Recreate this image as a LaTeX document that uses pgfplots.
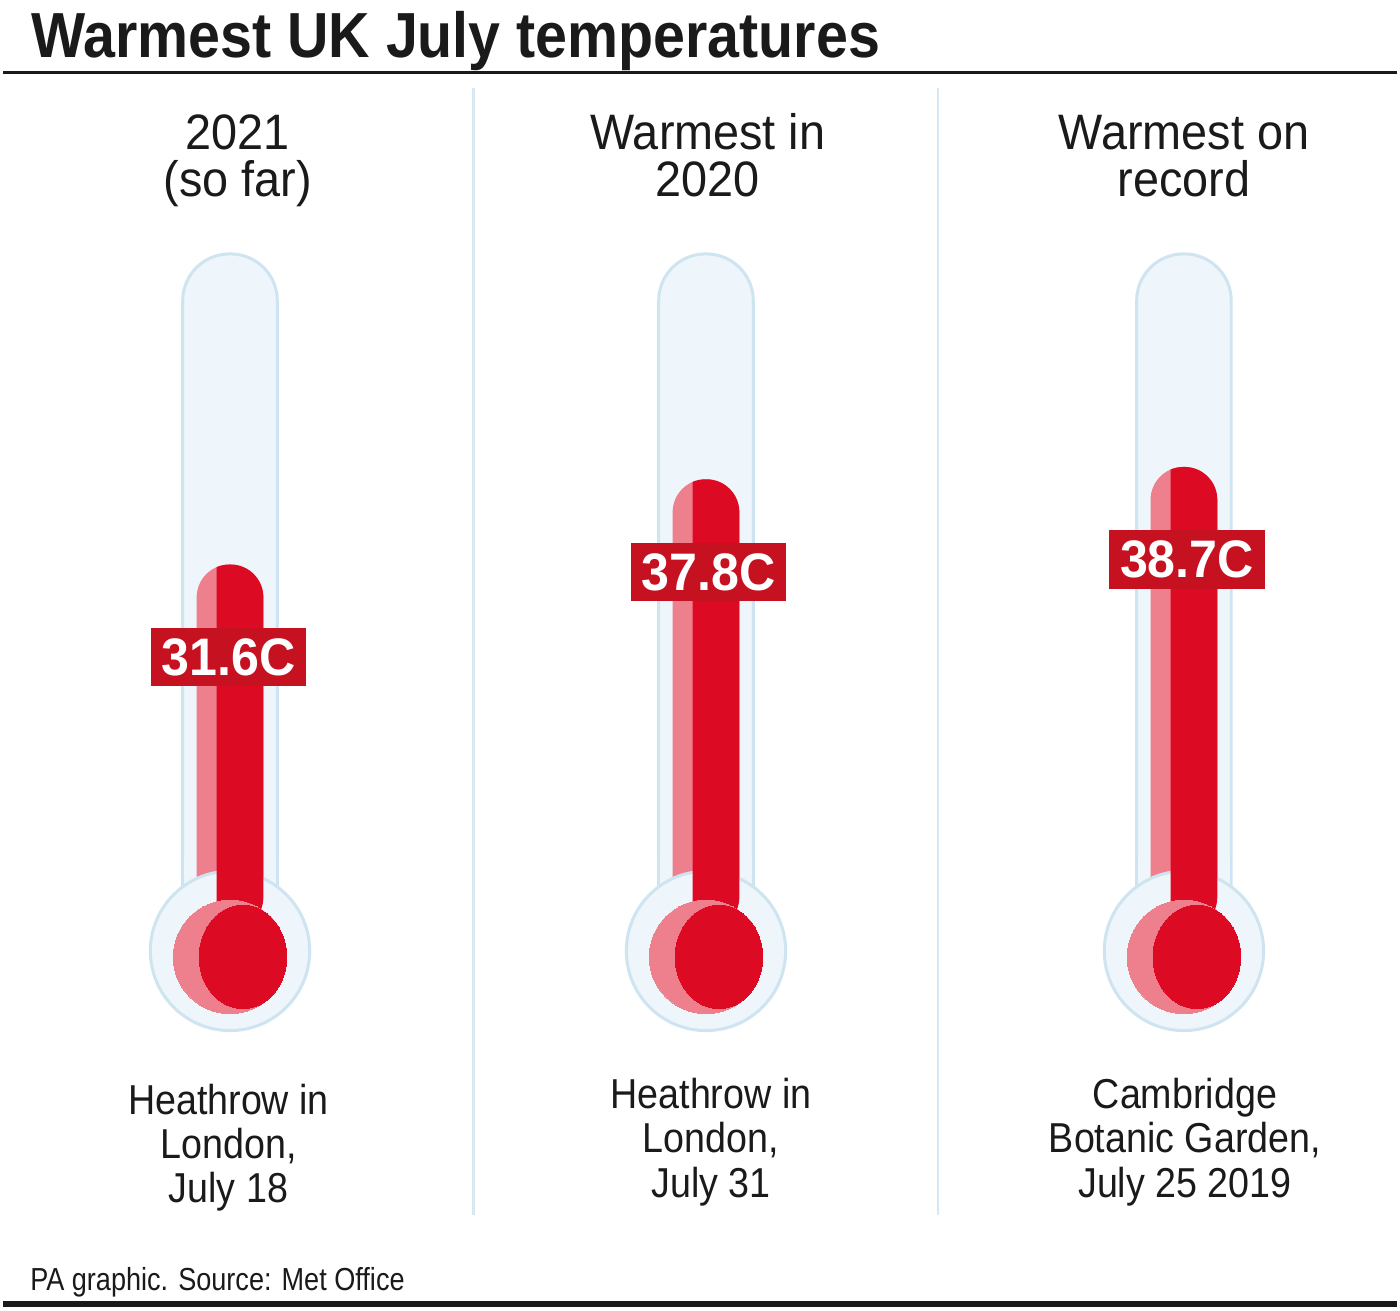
\documentclass[border=0pt]{standalone}
\usepackage{pgfplots}
\pgfplotsset{compat=1.18}
\usepackage{fontspec}
\setmainfont{Liberation Sans}
\newfontfamily\titlefont[FakeStretch=0.9]{Liberation Sans}
\newfontfamily\headfont[FakeStretch=0.94]{Liberation Sans}
\newfontfamily\labfont[FakeStretch=0.9]{Liberation Sans}
\newfontfamily\footfont[FakeStretch=0.85]{Liberation Sans}
\newfontfamily\valfont[FakeStretch=0.95]{Liberation Sans}
\definecolor{ink}{RGB}{26,26,26}
\definecolor{glassF}{RGB}{238,245,251}
\definecolor{glassB}{RGB}{207,228,241}
\definecolor{sepc}{RGB}{216,232,243}
\definecolor{pinkM}{RGB}{238,128,142}
\definecolor{darkM}{RGB}{220,10,35}
\definecolor{boxR}{RGB}{198,18,32}
\pgfplotsset{
  full/.style={scale only axis, width=700pt, height=658pt, at={(0pt,0pt)}, anchor=south west,
    xmin=0, xmax=1400, ymin=0, ymax=1316, hide axis, clip=false},
  win/.style={scale only axis, width=28.75pt, height=350pt, anchor=south west,
    ymin=400, ymax=1100, hide axis, clip=true},
  merc/.style={y filter/.expression={313+13.8*y}}
}
\begin{document}
\begin{tikzpicture}
% ---------- background layer ----------
\begin{axis}[full]
\addplot[fill=white, draw=none] coordinates {(0,0) (1400,0) (1400,1316) (0,1316)} -- cycle;

% separators and rules
\addplot[sepc, line width=1.5pt] coordinates {(473,96) (473,1228)};
\addplot[sepc, line width=1.5pt] coordinates {(939,96) (939,1228)};
\addplot[ink, line width=1.25pt] coordinates {(0,1243) (1400,1243)};
\addplot[ink, line width=3pt] coordinates {(0,6) (1400,6)};

% glass tubes
\addplot[fill=glassF, draw=glassB, line width=1.5pt, rounded corners=23.5pt] coordinates {(180.5,361) (180.5,1061) (275.5,1061) (275.5,361)} -- cycle;
\addplot[fill=glassF, draw=glassB, line width=1.5pt, rounded corners=23.5pt] coordinates {(658.5,361) (658.5,1061) (753.5,1061) (753.5,361)} -- cycle;
\addplot[fill=glassF, draw=glassB, line width=1.5pt, rounded corners=23.5pt] coordinates {(1138.5,361) (1138.5,1061) (1233.5,1061) (1233.5,361)} -- cycle;

% glass bulbs
\addplot[glassB, only marks, mark=*, mark size=40pt, mark options={fill=glassF, draw=glassB, line width=1.5pt}] coordinates {(228,361) (706,361) (1186,361)};

% patches hiding bulb border inside tube
\addplot[fill=glassF, draw=none] coordinates {(182,400) (182,455) (274,455) (274,400)} -- cycle;
\addplot[fill=glassF, draw=none] coordinates {(660,400) (660,455) (752,455) (752,400)} -- cycle;
\addplot[fill=glassF, draw=none] coordinates {(1140,400) (1140,455) (1232,455) (1232,400)} -- cycle;

% mercury columns, light part (values in degrees C)
\addplot[merc, fill=pinkM, draw=none, rounded corners=16.5pt] coordinates {(194.5,5) (194.5,31.6) (261.5,31.6) (261.5,5)} -- cycle;
\addplot[merc, fill=pinkM, draw=none, rounded corners=16.5pt] coordinates {(672.5,5) (672.5,37.8) (739.5,37.8) (739.5,5)} -- cycle;
\addplot[merc, fill=pinkM, draw=none, rounded corners=16.5pt] coordinates {(1152.5,5) (1152.5,38.7) (1219.5,38.7) (1219.5,5)} -- cycle;
\end{axis}

% ---------- dark part of the columns, clipped by small windows ----------
\begin{axis}[win, at={(107.25pt,200pt)}, xmin=214.5, xmax=272]
\addplot[merc, fill=darkM, draw=none, rounded corners=16.5pt] coordinates {(194.5,5) (194.5,31.6) (261.5,31.6) (261.5,5)} -- cycle;
\end{axis}
\begin{axis}[win, at={(346.25pt,200pt)}, xmin=692.5, xmax=750]
\addplot[merc, fill=darkM, draw=none, rounded corners=16.5pt] coordinates {(672.5,5) (672.5,37.8) (739.5,37.8) (739.5,5)} -- cycle;
\end{axis}
\begin{axis}[win, at={(586.25pt,200pt)}, xmin=1172.5, xmax=1230]
\addplot[merc, fill=darkM, draw=none, rounded corners=16.5pt] coordinates {(1152.5,5) (1152.5,38.7) (1219.5,38.7) (1219.5,5)} -- cycle;
\end{axis}

% ---------- foreground layer ----------
\begin{axis}[full]
% mercury bulbs
\addplot[pinkM, only marks, mark=*, mark size=28.5pt, mark options={fill=pinkM, draw=pinkM, line width=0pt}] coordinates {(228,355) (706,355) (1186,355)};
\addplot[darkM, only marks, mark=*, mark size=26pt, mark options={fill=darkM, draw=darkM, line width=0pt, xscale=0.846}] coordinates {(241,355) (719,355) (1199,355)};

% value labels
\addplot[merc, draw=none, nodes near coords, point meta=explicit symbolic,
  every node near coord/.append style={anchor=center, yshift=-46.5pt, fill=boxR, text=white,
    font=\valfont\bfseries\fontsize{26.5}{28}\selectfont, inner xsep=5.5pt, inner ysep=0pt, minimum height=29.5pt}]
  coordinates {(226.5,31.6) [31.6C] (708.5,37.8) [37.8C] (1189,38.7) [38.7C]};

% texts
\node[anchor=base west, inner sep=0pt, text=ink, font=\titlefont\bfseries\fontsize{32}{36}\selectfont] at (axis cs:28,1258) {Warmest UK July temperatures};

\begin{scope}[every node/.style={anchor=base, inner sep=0pt, text=ink, font=\headfont\fontsize{25}{28}\selectfont}]
\node at (axis cs:236,1166) {2021};
\node at (axis cs:236,1119) {(so far)};
\node at (axis cs:708,1166) {Warmest in};
\node at (axis cs:708,1119) {2020};
\node at (axis cs:1186,1166) {Warmest on};
\node at (axis cs:1186,1119) {record};
\end{scope}

\begin{scope}[every node/.style={anchor=base, inner sep=0pt, text=ink, font=\labfont\fontsize{21}{24}\selectfont}]
\node at (axis cs:226.5,197) {Heathrow in};
\node at (axis cs:226.5,153) {London,};
\node at (axis cs:226.5,108) {July 18};
\node at (axis cs:711,203) {Heathrow in};
\node at (axis cs:711,159) {London,};
\node at (axis cs:711,113) {July 31};
\node at (axis cs:1187,203) {Cambridge};
\node at (axis cs:1187,159) {Botanic Garden,};
\node at (axis cs:1187,113) {July 25 2019};
\end{scope}

\node[anchor=base west, inner sep=0pt, text=ink, font=\footfont\fontsize{16}{18}\selectfont] at (axis cs:27,20) {PA graphic. Source: Met Office};
\end{axis}
\end{tikzpicture}
\end{document}
